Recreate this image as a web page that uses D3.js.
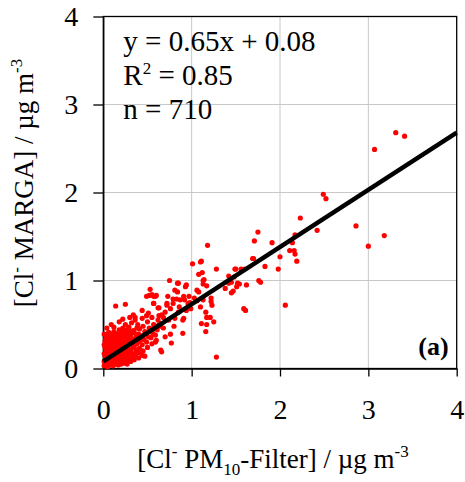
<!DOCTYPE html>
<html>
<head>
<meta charset="utf-8">
<script src="https://cdn.jsdelivr.net/npm/d3@7"></script>
<style>
  body { margin: 0; background: #fff; }
  svg { display: block; font-family: "Liberation Serif", "Times New Roman", serif; }
  .grid line { stroke: #c8c8c8; stroke-width: 1; }
  .axis path, .axis line { stroke: #000; stroke-width: 1.3; }
  .axis text { font-family: "Liberation Serif", serif; font-size: 28px; fill: #000; }
</style>
</head>
<body>
<svg width="465" height="482"></svg>
<script>
// tick values for both axes
const ticks = [0, 1, 2, 3, 4];

// regression statistics
const slope = 0.65, intercept = 0.08, r2 = 0.85, nPoints = 710;

// [Cl- PM10-Filter, Cl- MARGA] pairs, ug m-3 — dense cluster near origin
const clusterPts = [
  [0.01,0.03],[0.02,0.05],[0.01,0.08],[0.03,0.11],[0.02,0.14],[0.01,0.17],[0.03,0.20],[0.02,0.24],[0.01,0.27],[0.02,0.31],[0.03,0.35],[0.01,0.39],
  [0.05,0.02],[0.04,0.06],[0.06,0.10],[0.05,0.13],[0.04,0.16],[0.06,0.19],[0.05,0.22],[0.04,0.26],[0.06,0.29],[0.05,0.33],[0.04,0.37],[0.06,0.41],
  [0.08,0.04],[0.07,0.07],[0.09,0.12],[0.08,0.15],[0.07,0.18],[0.09,0.21],[0.08,0.25],[0.07,0.28],[0.09,0.32],[0.08,0.36],[0.07,0.40],
  [0.11,0.03],[0.10,0.06],[0.12,0.09],[0.11,0.13],[0.10,0.17],[0.12,0.20],[0.11,0.23],[0.10,0.27],[0.12,0.30],[0.11,0.34],[0.10,0.38],[0.12,0.42],
  [0.14,0.05],[0.13,0.08],[0.15,0.11],[0.14,0.15],[0.13,0.19],[0.15,0.22],[0.14,0.26],[0.13,0.29],[0.15,0.33],[0.14,0.37],[0.13,0.40],
  [0.17,0.04],[0.16,0.07],[0.18,0.10],[0.17,0.14],[0.16,0.18],[0.18,0.21],[0.17,0.24],[0.16,0.28],[0.18,0.31],[0.17,0.35],[0.16,0.39],[0.18,0.44],
  [0.20,0.05],[0.19,0.09],[0.21,0.12],[0.20,0.16],[0.19,0.20],[0.21,0.23],[0.20,0.27],[0.19,0.30],[0.21,0.34],[0.20,0.38],[0.19,0.43],
  [0.23,0.06],[0.22,0.10],[0.24,0.14],[0.23,0.17],[0.22,0.21],[0.24,0.25],[0.23,0.29],[0.22,0.32],[0.24,0.36],[0.23,0.41],[0.22,0.46],
  [0.26,0.08],[0.25,0.12],[0.27,0.16],[0.26,0.20],[0.25,0.24],[0.27,0.27],[0.26,0.31],[0.25,0.35],[0.27,0.39],[0.26,0.44],[0.25,0.50],
  [0.29,0.10],[0.28,0.14],[0.30,0.18],[0.29,0.22],[0.28,0.26],[0.30,0.30],[0.29,0.33],[0.28,0.37],[0.30,0.42],[0.29,0.47],
  [0.32,0.12],[0.33,0.17],[0.31,0.21],[0.34,0.25],[0.32,0.29],[0.33,0.33],[0.31,0.38],[0.34,0.43],[0.32,0.52],
  [0.36,0.15],[0.37,0.20],[0.35,0.24],[0.38,0.28],[0.36,0.32],[0.37,0.36],[0.35,0.41],[0.38,0.46],[0.36,0.55],
  [0.40,0.18],[0.41,0.23],[0.39,0.30],[0.42,0.34],[0.40,0.39],[0.41,0.45],[0.39,0.50],
  [0.45,0.20],[0.44,0.27],[0.46,0.33],[0.43,0.37],[0.47,0.42],[0.45,0.48],[0.44,0.57],
  [0.50,0.24],[0.49,0.30],[0.51,0.36],[0.48,0.41],[0.52,0.46],[0.50,0.53],[0.49,0.60],
  [0.55,0.28],[0.54,0.35],[0.56,0.40],[0.53,0.45],[0.57,0.50],[0.55,0.58],
  [0.60,0.32],[0.59,0.38],[0.61,0.44],[0.58,0.49],[0.62,0.55],
  [0.27,0.05],[0.31,0.08],[0.35,0.10],[0.40,0.12],[0.44,0.15],[0.15,0.06],
  [0.09,0.50],[0.04,0.46],[0.18,0.53],[0.22,0.56],[0.30,0.58],[0.12,0.47]
];

// mid-range spread
const spreadPts = [
  [0.14,0.71],[0.25,0.73],[0.52,0.83],[0.34,0.61],[0.66,0.19],[0.77,0.29],[0.47,0.14],[0.42,0.32],[0.55,0.44],
  [0.64,0.48],[0.65,0.21],[0.53,0.90],[0.49,0.82],[0.55,0.84],[0.59,0.82],[0.57,0.74],[0.60,0.83],[0.57,0.82],
  [0.73,0.82],[0.75,1.00],[0.85,0.97],[0.94,0.95],[0.84,0.97],[0.93,0.93],[0.81,0.89],[0.84,0.87],[0.79,0.79],
  [0.87,0.78],[0.91,0.82],[0.96,0.74],[0.72,0.74],[0.76,0.68],[0.62,0.69],[0.44,0.66],[0.36,0.58],[0.51,0.63],
  [0.66,0.61],[0.85,0.64],[0.94,0.66],[0.81,0.57],[0.90,0.55],[0.76,0.39],[0.90,0.40],[0.59,0.30],[0.68,0.46],
  [0.64,0.51],[0.63,0.60],[0.70,0.64],[0.72,0.72],[0.92,0.78],[0.83,0.79],[0.97,0.82],[0.79,0.74],[0.98,0.75],
  [0.91,0.57],[0.80,0.48],[0.63,0.69],[0.57,0.74],[1.01,1.19],[1.10,1.21],[1.08,1.07],[1.13,1.00],[1.06,0.89],
  [1.08,0.87],[1.06,0.77],[1.13,0.78],[1.22,0.76],[1.23,0.72],[1.21,0.58],[1.16,0.64],[1.10,0.70],[1.11,0.51],
  [1.25,0.53],[1.17,0.58],[1.16,0.42],[1.17,0.50],[1.28,0.13],[1.18,1.40],[1.11,1.22],[1.12,1.09],[1.28,1.13],
  [1.14,1.01],[1.13,0.96],[1.17,0.94],[1.22,0.80],[1.38,0.91],[1.45,0.86],[1.54,0.96],[1.59,0.68],[1.61,0.66],
  [1.42,0.97],[1.45,0.98],[1.47,0.88],[1.51,0.93],[1.52,0.97],[1.62,0.95],[1.42,1.05],[1.48,1.04],[1.50,1.13],
  [1.56,1.13],[1.49,1.13],[1.60,1.13],[0.70,0.36],[0.74,0.55],[0.86,0.70],[0.99,0.68],[1.03,0.80],[0.68,0.58]
];

// high-range outliers
const outlierPts = [
  [3.31,2.68],[3.41,2.64],[3.07,2.49],[2.49,1.98],[2.52,1.93],[2.23,1.71],[2.42,1.57],[2.86,1.62],[3.18,1.51],
  [3.00,1.39],[2.17,1.52],[2.14,1.43],[2.11,1.34],[2.16,1.34],[2.17,1.30],[2.19,1.22],[2.00,1.27],[1.98,1.13],
  [1.83,1.16],[1.70,1.25],[1.69,1.25],[1.76,1.00],[1.78,0.98],[2.06,0.72],[1.75,1.55],[1.71,1.45],[1.91,1.43]
];

const svg = d3.select('svg'),
  margin = {top: 16.5, right: 8.3, bottom: 113.5, left: 103.3},
  width = +svg.attr('width') - margin.left - margin.right,
  height = +svg.attr('height') - margin.top - margin.bottom;

const x = d3.scaleLinear().domain([0, 4]).range([0, width]),
  y = d3.scaleLinear().domain([0, 4]).range([height, 0]);

const g = svg.append('g')
  .attr('transform', 'translate(' + margin.left + ',' + margin.top + ')');

// grid
const grid = g.append('g').attr('class', 'grid');
grid.selectAll('.gx').data(ticks.slice(1, -1)).enter().append('line')
  .attr('x1', d => x(d)).attr('x2', d => x(d)).attr('y1', 0).attr('y2', height);
grid.selectAll('.gy').data(ticks.slice(1, -1)).enter().append('line')
  .attr('y1', d => y(d)).attr('y2', d => y(d)).attr('x1', 0).attr('x2', width);

// frame
g.append('rect')
  .attr('width', width).attr('height', height)
  .attr('fill', 'none').attr('stroke', '#000').attr('stroke-width', 1.3);

// axes
g.append('g')
  .attr('class', 'axis axis--x')
  .attr('transform', 'translate(0,' + height + ')')
  .call(d3.axisBottom(x).tickValues(ticks).tickFormat(d3.format('d')).tickSizeInner(8).tickSizeOuter(0).tickPadding(23));

g.append('g')
  .attr('class', 'axis axis--y')
  .call(d3.axisLeft(y).tickValues(ticks).tickFormat(d3.format('d')).tickSizeInner(10).tickSizeOuter(0).tickPadding(15));

// points
const allPts = clusterPts.concat(spreadPts, outlierPts);
g.selectAll('.pt')
  .data(allPts)
  .enter().append('circle')
  .attr('class', 'pt')
  .attr('cx', d => x(d[0]))
  .attr('cy', d => y(d[1]))
  .attr('r', 2.6)
  .attr('fill', '#ff0000');

// regression line
g.append('line')
  .attr('x1', x(0)).attr('y1', y(intercept))
  .attr('x2', x(4)).attr('y2', y(slope * 4 + intercept))
  .attr('stroke', '#000').attr('stroke-width', 4.5);

// annotation
const ann = g.append('text')
  .attr('font-size', 29)
  .attr('x', 20);
ann.append('tspan').attr('x', 20).attr('y', 34).text('y = ' + slope + 'x + ' + intercept);
const r = ann.append('tspan').attr('x', 20).attr('y', 68);
r.append('tspan').text('R');
r.append('tspan').attr('font-size', 17).attr('dy', -11).text('2');
r.append('tspan').attr('dy', 11).text(' = ' + r2);
ann.append('tspan').attr('x', 20).attr('y', 102).text('n = ' + nPoints);

g.append('text')
  .attr('x', width - 8).attr('y', height - 14)
  .attr('text-anchor', 'end')
  .attr('font-size', 26).attr('font-weight', 'bold')
  .text('(a)');

// x-axis title
const xt = svg.append('text')
  .attr('x', 273).attr('y', 468)
  .attr('text-anchor', 'middle')
  .attr('font-size', 27);
xt.append('tspan').text('[Cl');
xt.append('tspan').attr('font-size', 17).attr('dy', -11).text('-');
xt.append('tspan').attr('dy', 11).text(' PM');
xt.append('tspan').attr('font-size', 17).attr('dy', 7).text('10');
xt.append('tspan').attr('dy', -7).text('-Filter] / \u00b5g m');
xt.append('tspan').attr('font-size', 17).attr('dy', -11).text('-3');

// y-axis title
const yt = svg.append('text')
  .attr('transform', 'translate(33,183) rotate(-90)')
  .attr('text-anchor', 'middle')
  .attr('font-size', 27);
yt.append('tspan').text('[Cl');
yt.append('tspan').attr('font-size', 17).attr('dy', -11).text('-');
yt.append('tspan').attr('dy', 11).text(' MARGA] / \u00b5g m');
yt.append('tspan').attr('font-size', 17).attr('dy', -11).text('-3');
</script>
</body>
</html>
